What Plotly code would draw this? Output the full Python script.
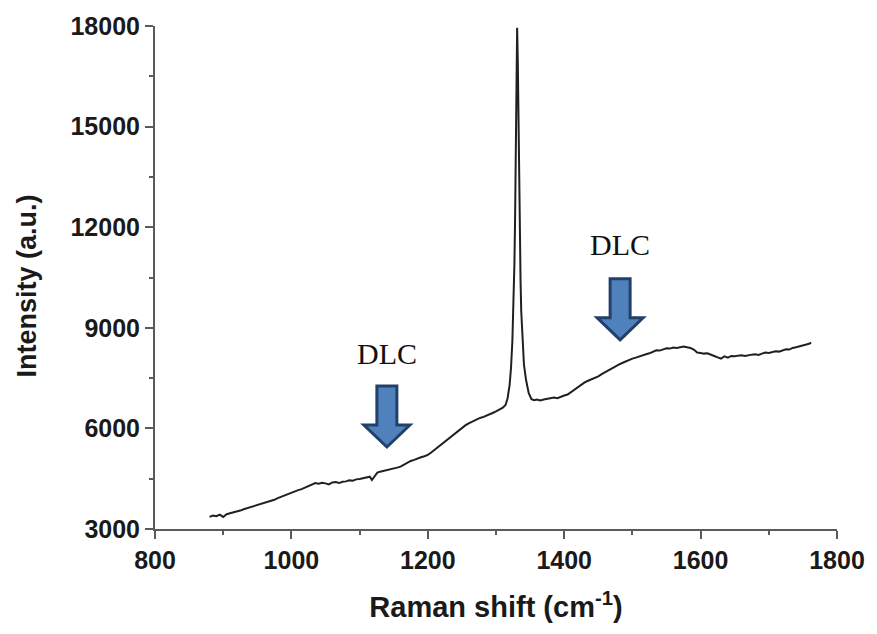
import plotly.graph_objects as go

# Raman spectrum: shift (cm^-1) and intensity (a.u.)
raman_shift = [
    880, 885, 890, 895, 900, 905, 910, 915, 920, 925, 930, 935, 940, 945, 950, 955,
    960, 965, 970, 975, 980, 985, 990, 995, 1000, 1005, 1010, 1015, 1020, 1025, 1030,
    1035, 1040, 1045, 1050, 1055, 1060, 1065, 1070, 1075, 1080, 1085, 1090, 1095, 1100,
    1105, 1110, 1115, 1118, 1122, 1126, 1130, 1135, 1140, 1145, 1150, 1155, 1160, 1165,
    1170, 1175, 1180, 1185, 1190, 1195, 1200, 1205, 1210, 1215, 1220, 1225, 1230, 1235,
    1240, 1245, 1250, 1255, 1260, 1265, 1270, 1275, 1280, 1285, 1290, 1295, 1300, 1305,
    1310, 1314, 1317, 1320, 1322, 1324, 1326, 1327, 1328, 1329, 1330, 1331, 1332, 1333,
    1334, 1335, 1336, 1337, 1339, 1341, 1344, 1348, 1352,
    1356, 1360, 1365, 1370, 1375, 1380, 1385, 1390, 1395, 1400, 1405, 1410, 1415, 1420,
    1425, 1430, 1435, 1440, 1445, 1450, 1455, 1460, 1465, 1470, 1475, 1480, 1485, 1490,
    1495, 1500, 1505, 1510, 1515, 1520, 1525, 1530, 1535, 1540, 1545, 1550, 1555, 1560,
    1565, 1570, 1575, 1580, 1585, 1590, 1595, 1600, 1605, 1610, 1615, 1620, 1625, 1630,
    1635, 1640, 1645, 1650, 1655, 1660, 1665, 1670, 1675, 1680, 1685, 1690, 1695, 1700,
    1705, 1710, 1715, 1720, 1725, 1730, 1735, 1740, 1745, 1750, 1755, 1760, 1762,
]
intensity = [
    3360, 3400, 3380, 3430, 3360, 3440, 3470, 3490, 3520, 3550, 3590, 3620, 3660, 3690, 3720, 3760,
    3780, 3810, 3850, 3870, 3920, 3960, 4010, 4060, 4090, 4130, 4160, 4190, 4230, 4280, 4320,
    4370, 4350, 4380, 4360, 4330, 4390, 4400, 4370, 4410, 4420, 4450, 4440, 4480, 4490,
    4510, 4540, 4560, 4460, 4560, 4680, 4710, 4730, 4760, 4770, 4790, 4830, 4860, 4920,
    4990, 5030, 5060, 5110, 5140, 5170, 5210, 5280, 5360, 5450, 5520, 5620, 5700, 5780,
    5850, 5940, 6010, 6090, 6150, 6200, 6260, 6300, 6330, 6370, 6400, 6460, 6510, 6570,
    6620, 6700, 6900, 7300, 7800, 8600, 9900, 10900, 12300, 14100, 16300, 17950, 16900, 14800,
    13000, 11600, 10400, 9500, 8500, 7900, 7450, 7050, 6870,
    6840, 6860, 6830, 6860, 6880, 6900, 6920, 6900, 6950, 6980, 7010, 7080, 7150, 7230,
    7310, 7370, 7420, 7460, 7500, 7550, 7620, 7680, 7740, 7800, 7840, 7900, 7950, 8000,
    8040, 8080, 8110, 8150, 8170, 8210, 8240, 8290, 8330, 8320, 8360, 8390, 8380, 8410,
    8400, 8430, 8440, 8420, 8400, 8350, 8260, 8250, 8230, 8240, 8190, 8160, 8120, 8080,
    8150, 8110, 8160, 8150, 8170, 8180, 8160, 8190, 8200, 8210, 8190, 8230, 8260, 8250,
    8280, 8300, 8290, 8330, 8360, 8350, 8400, 8420, 8440, 8470, 8500, 8530, 8560,
]

# Marked DLC bands: arrow tip positions and the label placed above each arrow
dlc_shift = [1140, 1482]
dlc_tip = [5445, 8640]
dlc_label_y = [8220, 11470]
dlc_labels = ["DLC", "DLC"]

x_ticks = [800, 1000, 1200, 1400, 1600, 1800]
y_ticks = [3000, 6000, 9000, 12000, 15000, 18000]

AXIS_COLOR = "#5a5a5a"
TEXT_COLOR = "#1a1a1a"
SANS = "Liberation Sans, Arial, sans-serif"

fig = go.Figure()
fig.add_trace(go.Scatter(
    x=raman_shift, y=intensity, mode="lines",
    line=dict(color="#202020", width=2),
    showlegend=False, hoverinfo="x+y",
))

# Down-pointing block arrows, drawn in pixel units around their tips
arrow_path = "M 0 0 L -23 22 L -10 22 L -10 61 L 10 61 L 10 22 L 23 22 Z"
shapes = []
for xs, ys in zip(dlc_shift, dlc_tip):
    shapes.append(dict(
        type="path", xref="x", yref="y",
        xsizemode="pixel", ysizemode="pixel",
        xanchor=xs, yanchor=ys, path=arrow_path,
        fillcolor="#4f81bd", line=dict(color="#23406a", width=3),
        layer="above",
    ))

annotations = []
for xs, ys, txt in zip(dlc_shift, dlc_label_y, dlc_labels):
    annotations.append(dict(
        x=xs, y=ys, xref="x", yref="y", text=txt, showarrow=False,
        font=dict(family="Liberation Serif, Times New Roman, serif", size=30, color="#111111"),
        xanchor="center", yanchor="middle",
    ))

# Y-axis title, placed left of the tick labels
annotations.append(dict(
    x=-0.187, y=0.483, xref="paper", yref="paper",
    text="Intensity (a.u.)", textangle=-90, showarrow=False,
    font=dict(family=SANS, size=27, color=TEXT_COLOR, weight="bold"),
    xanchor="center", yanchor="middle",
))

tick_font = dict(family=SANS, size=25, color=TEXT_COLOR, weight="bold")
title_font = dict(family=SANS, size=29, color=TEXT_COLOR, weight="bold")

fig.update_layout(
    width=877, height=634,
    margin=dict(l=155, r=37, t=26, b=105),
    paper_bgcolor="white", plot_bgcolor="white",
    shapes=shapes, annotations=annotations,
    xaxis=dict(
        range=[800, 1800], tickvals=x_ticks, ticktext=[str(v) for v in x_ticks],
        showgrid=False, zeroline=False,
        showline=True, linecolor=AXIS_COLOR, linewidth=2,
        ticks="outside", ticklen=8, tickwidth=2, tickcolor=AXIS_COLOR,
        minor=dict(tickvals=[900, 1100, 1300, 1500, 1700], ticks="outside",
                   ticklen=4, tickwidth=2, tickcolor=AXIS_COLOR, showgrid=False),
        tickfont=tick_font,
        title=dict(text="Raman shift (cm<sup>-1</sup>)", font=title_font, standoff=24),
    ),
    yaxis=dict(
        range=[3000, 18000], tickvals=y_ticks, ticktext=[str(v) for v in y_ticks],
        showgrid=False, zeroline=False,
        showline=True, linecolor=AXIS_COLOR, linewidth=2,
        ticks="outside", ticklen=8, tickwidth=2, tickcolor=AXIS_COLOR,
        minor=dict(tickvals=[4500, 7500, 10500, 13500, 16500], ticks="outside",
                   ticklen=4, tickwidth=2, tickcolor=AXIS_COLOR, showgrid=False),
        tickfont=tick_font,
    ),
)

fig.write_html("out.html")
